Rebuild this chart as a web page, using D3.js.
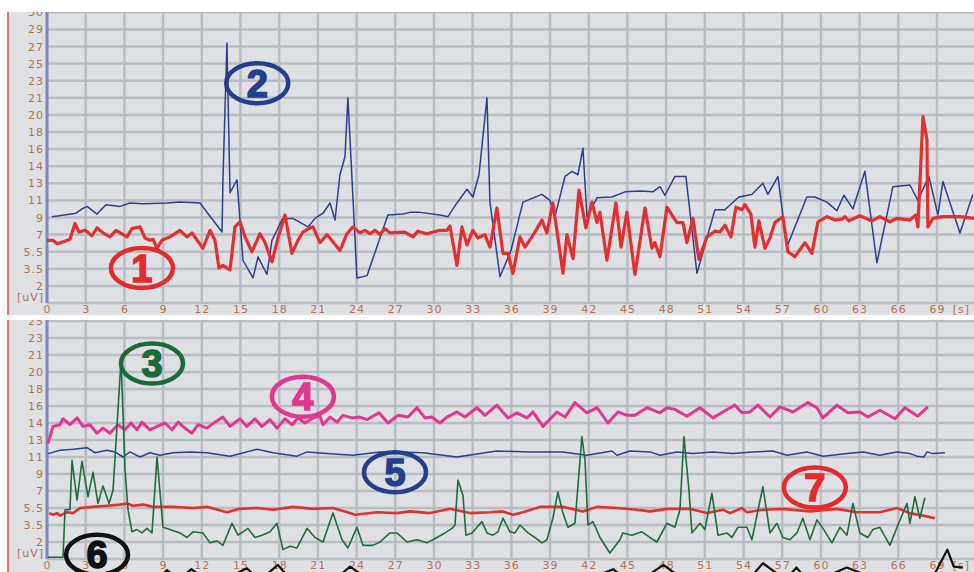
<!DOCTYPE html>
<html>
<head>
<meta charset="utf-8">
<script src="https://cdn.jsdelivr.net/npm/d3@7"></script>
<style>
  body { margin: 0; background: #fff; }
  svg { display: block; }
  .tick text { font-family: "DejaVu Sans", sans-serif; font-size: 11px; fill: #b5724f; letter-spacing: 1px; }
  .unit { font-family: "DejaVu Sans", sans-serif; font-size: 11px; fill: #b5724f; letter-spacing: 1px; }
  .badge text { font-family: "Liberation Sans", Arial, sans-serif; font-weight: bold; font-size: 38px; }
</style>
</head>
<body>
<svg id="chart" width="974" height="572"></svg>
<script>
// Time ticks in seconds, shared by both panels
const timeTicks = [0, 3, 6, 9, 12, 15, 18, 21, 24, 27, 30, 33, 36, 39, 42, 45, 48, 51, 54, 57, 60, 63, 66, 69];

// The amplitude axes are not linear: every label sits one grid row apart
const topLevels = [0, 2, 3.5, 5.5, 7, 9, 11, 13, 14, 16, 18, 20, 21, 23, 25, 27, 29, 30];
const bottomLevels = [0, 2, 3.5, 5.5, 7, 9, 11, 13, 14, 16, 18, 20, 21, 23, 25];

// [time s, amplitude uV]
const ch1Red = [[0.0,6.5],[0.47,6.5],[0.78,6.2],[1.32,6.4],[1.78,6.6],[2.17,8.3],[2.48,7.3],[2.95,7.5],[3.49,6.9],[3.88,7.8],[4.34,7.2],[4.88,6.8],[5.35,7.5],[6.2,6.8],[6.59,7.7],[7.21,7.9],[7.6,6.7],[7.98,6.5],[8.22,6.6],[8.53,5.8],[8.91,6.5],[9.53,6.8],[10.31,7.5],[10.85,6.8],[11.24,7.2],[12.09,5.8],[12.64,7.5],[13.02,6.5],[13.33,3.6],[13.64,3.9],[14.19,3.4],[14.57,7.9],[14.96,8.5],[15.35,6.8],[15.89,5.5],[16.51,7.1],[16.9,6.3],[17.44,4.3],[17.91,6.7],[18.45,9.3],[18.99,5.3],[19.46,6.5],[19.84,7.3],[20.39,7.8],[20.62,7.9],[21.16,6.3],[21.71,7.0],[22.71,5.6],[23.26,7.1],[23.72,7.9],[24.26,7.2],[24.65,7.5],[25.04,7.1],[25.43,7.5],[25.81,7.0],[26.2,7.7],[26.59,7.2],[27.75,7.3],[28.37,6.8],[28.76,7.4],[29.46,7.1],[30.47,7.5],[31.01,7.5],[31.24,8.0],[31.78,3.9],[32.17,7.9],[32.56,6.1],[33.02,7.5],[33.41,6.7],[33.95,7.0],[34.34,5.9],[34.88,10.1],[35.35,5.3],[35.74,5.3],[36.12,3.1],[36.67,6.8],[37.05,5.9],[37.6,6.8],[38.37,8.7],[38.76,7.2],[39.22,10.7],[39.53,7.5],[40.0,3.1],[40.31,7.0],[40.78,4.7],[41.24,12.2],[41.78,7.8],[42.25,10.8],[42.64,8.4],[42.87,9.6],[43.41,4.5],[44.11,10.7],[44.5,5.9],[44.96,9.6],[45.58,3.0],[46.36,10.1],[46.9,5.8],[47.13,6.3],[47.52,4.9],[48.06,10.2],[48.84,8.4],[49.3,8.4],[49.61,6.3],[50.08,8.9],[50.54,4.6],[51.16,6.8],[51.78,7.4],[52.17,7.3],[52.56,8.1],[53.02,6.8],[53.41,10.2],[53.88,9.9],[54.11,10.5],[54.57,9.4],[54.88,5.9],[55.19,8.6],[55.66,5.8],[56.05,6.7],[56.43,8.4],[57.05,9.1],[57.44,5.5],[57.98,4.9],[58.76,6.3],[59.3,5.3],[59.77,8.5],[60.47,9.1],[61.09,8.7],[61.63,8.8],[61.86,9.1],[62.17,8.6],[63.02,9.2],[63.95,8.6],[64.57,9.1],[65.35,8.5],[65.89,8.9],[66.9,8.7],[67.36,9.3],[67.52,7.9],[67.91,19.8],[68.22,17.1],[68.29,7.9],[68.68,8.9],[69.46,9.1],[70.78,9.1],[71.86,8.9]];

const ch2Blue = [[0.39,9.1],[2.25,9.5],[2.71,10.0],[3.1,10.3],[3.88,9.4],[4.57,10.5],[5.66,10.3],[6.43,10.7],[7.44,10.6],[9.3,10.7],[10.31,10.8],[11.86,10.7],[13.57,7.3],[13.64,13.2],[13.95,27.4],[14.19,11.9],[14.73,13.2],[15.19,4.5],[15.97,2.7],[16.36,4.9],[17.05,3.0],[17.44,6.5],[17.83,7.5],[18.22,8.8],[19.07,8.9],[20.23,7.9],[20.78,8.9],[21.4,9.5],[21.94,10.7],[22.33,8.7],[22.71,13.5],[23.1,15.1],[23.33,21.0],[24.03,2.7],[24.81,2.9],[26.43,9.3],[27.6,9.4],[28.14,9.6],[28.91,9.6],[30.47,9.3],[31.09,9.1],[31.78,10.7],[32.56,12.3],[33.02,11.4],[33.49,13.5],[34.11,21.0],[34.34,10.8],[35.12,2.8],[35.97,5.6],[36.9,10.8],[38.37,11.7],[38.99,11.0],[39.38,9.1],[40.16,13.4],[40.7,13.7],[41.16,13.5],[41.55,16.1],[41.86,9.1],[42.64,11.3],[43.8,11.4],[44.81,12.0],[45.97,12.1],[46.98,12.0],[47.52,12.6],[47.91,11.6],[48.68,13.4],[49.53,13.4],[50.39,3.1],[51.78,9.9],[52.56,9.9],[53.64,11.4],[54.65,11.7],[55.5,13.0],[55.89,11.7],[56.67,13.4],[57.36,5.9],[58.91,11.4],[59.53,11.4],[60.47,10.8],[61.24,9.8],[61.78,11.6],[62.48,10.0],[63.41,13.7],[64.34,4.2],[65.58,12.6],[66.9,12.8],[67.52,11.0],[68.37,13.4],[69.07,9.3],[69.46,13.1],[70.78,7.2],[71.78,11.7]];

const ch3Green = [[0.08,0.2],[1.24,0.2],[1.4,5.3],[1.78,5.3],[1.94,10.6],[2.33,6.2],[2.71,10.5],[3.18,6.5],[3.57,9.2],[3.95,5.9],[4.34,7.6],[4.81,5.9],[5.12,7.1],[5.74,20.7],[6.05,9.5],[6.28,5.3],[6.59,2.9],[6.98,3.1],[7.36,2.8],[7.75,3.2],[8.14,2.8],[8.53,11.0],[8.99,3.3],[9.53,3.1],[10.31,2.8],[10.85,2.4],[11.32,2.9],[12.09,2.8],[12.64,1.9],[13.18,2.1],[13.64,1.6],[14.34,3.7],[14.81,2.6],[15.58,3.2],[16.12,2.4],[16.67,2.6],[17.29,2.9],[17.83,3.7],[18.29,1.1],[18.84,1.5],[19.38,1.3],[20.16,3.2],[20.78,2.4],[21.4,2.0],[22.17,4.9],[22.87,2.2],[23.33,1.3],[24.03,3.3],[24.5,1.6],[25.27,1.6],[25.81,2.0],[26.59,2.8],[27.13,2.8],[27.91,2.0],[28.68,2.2],[29.46,1.9],[30.23,2.4],[30.85,2.8],[31.4,3.2],[31.63,3.5],[31.86,8.3],[32.25,6.6],[32.48,2.6],[32.95,2.8],[33.72,3.9],[34.11,2.8],[34.57,2.6],[34.96,2.9],[35.35,4.3],[35.89,2.9],[36.28,2.8],[36.67,3.5],[37.29,2.8],[37.83,2.4],[38.37,1.9],[38.76,2.2],[39.22,4.3],[39.61,6.9],[40.0,4.9],[40.39,3.3],[40.93,3.7],[41.47,13.2],[41.71,10.6],[41.94,3.5],[42.33,3.9],[42.87,2.4],[43.64,0.7],[44.42,2.2],[44.65,2.8],[45.35,2.6],[46.12,2.9],[46.74,2.4],[47.29,2.0],[48.06,3.7],[48.68,3.3],[49.07,5.3],[49.38,13.2],[49.77,7.1],[50.0,2.8],[50.62,3.7],[51.01,3.1],[51.55,6.8],[52.02,2.6],[52.71,2.8],[53.1,2.4],[53.57,3.3],[54.26,3.3],[54.65,2.2],[55.5,7.5],[56.05,2.8],[56.59,3.7],[57.05,2.4],[57.6,2.2],[58.14,2.8],[58.6,4.3],[59.15,2.2],[59.69,4.1],[60.16,3.2],[60.85,1.9],[61.47,3.3],[62.02,2.6],[62.48,5.9],[63.02,2.8],[63.64,2.4],[64.03,3.1],[64.57,3.3],[65.35,1.6],[65.97,3.5],[66.67,5.9],[66.9,3.7],[67.29,6.5],[67.67,4.3],[68.06,6.4]];

const ch4Magenta = [[0.08,12.6],[0.47,13.8],[1.01,13.9],[1.24,14.5],[1.78,13.9],[2.33,14.6],[2.79,13.8],[3.33,13.9],[3.88,13.4],[4.34,13.7],[4.88,13.4],[5.5,13.9],[6.05,13.6],[6.51,14.0],[6.98,13.6],[7.36,14.1],[7.98,13.6],[8.53,13.8],[9.15,14.0],[9.69,13.6],[10.16,14.1],[10.85,13.6],[11.24,13.4],[11.71,13.9],[12.4,13.7],[13.02,14.1],[13.64,14.7],[14.19,13.8],[14.96,14.5],[15.5,13.8],[16.12,14.5],[16.67,13.8],[17.29,14.4],[17.83,13.7],[18.45,14.5],[18.99,13.9],[19.46,14.6],[20.0,14.0],[20.62,14.6],[21.16,14.8],[21.4,13.9],[21.94,14.7],[22.48,14.1],[22.95,14.9],[23.64,14.6],[24.26,14.7],[24.81,14.4],[25.74,15.2],[26.43,14.0],[27.21,14.9],[27.98,14.7],[28.68,15.8],[29.3,14.6],[29.84,14.7],[30.47,14.0],[31.01,14.7],[31.78,15.3],[32.4,14.7],[33.33,15.8],[33.95,14.9],[34.88,16.1],[35.74,14.6],[36.43,15.2],[37.21,14.6],[37.67,15.3],[38.45,13.8],[39.53,15.3],[40.16,14.7],[40.93,16.4],[41.86,15.2],[42.64,15.8],[43.49,14.0],[44.26,15.3],[44.96,14.9],[45.58,14.9],[46.51,15.8],[47.52,15.2],[48.06,15.8],[48.68,15.6],[49.61,14.8],[50.62,15.8],[51.63,14.6],[52.4,15.3],[53.33,16.1],[53.88,15.2],[54.5,15.3],[55.12,16.1],[56.05,14.7],[56.82,15.9],[57.83,15.3],[58.99,16.4],[59.69,15.8],[60.16,14.6],[61.24,16.1],[62.09,15.2],[63.02,15.3],[63.64,14.7],[64.57,15.5],[65.74,14.5],[66.51,15.8],[67.52,14.8],[68.29,15.9]];

const ch5Blue = [[0.08,11.4],[1.01,11.8],[2.02,11.9],[3.1,12.1],[3.72,11.5],[4.65,11.8],[5.27,11.6],[5.89,11.0],[6.43,11.6],[7.21,11.0],[7.98,11.5],[8.76,11.2],[9.77,11.5],[11.09,11.6],[12.4,11.5],[14.19,11.1],[16.28,11.9],[17.52,11.5],[19.38,11.1],[20.16,11.6],[21.71,11.4],[23.72,11.2],[25.81,11.6],[27.13,11.6],[29.15,11.5],[31.78,11.0],[34.88,11.7],[37.44,11.6],[40.0,11.6],[41.86,11.2],[43.8,11.7],[44.19,11.2],[45.19,11.7],[46.74,11.6],[47.52,11.2],[48.84,11.6],[50.08,11.4],[51.63,11.6],[53.18,11.4],[54.73,11.6],[56.28,11.7],[57.36,11.2],[58.91,11.6],[60.16,11.1],[62.02,11.4],[63.26,11.6],[64.57,11.2],[65.89,11.6],[66.9,11.4],[67.44,11.1],[67.98,11.0],[68.22,11.6],[68.68,11.4],[69.61,11.5]];

// Channel 6 runs mostly below the visible area, only its peaks show
const ch6Black = [[0.0,-2.6],[1.5,-1.9],[3.0,-2.8],[4.5,-2.0],[6.0,-2.6],[7.5,-2.2],[8.5,-2.6],[9.3,-1.3],[10.2,-2.4],[11.2,-1.2],[12.5,-2.7],[14.0,-2.2],[15.5,-1.1],[16.5,-2.5],[17.9,-0.7],[19.0,-2.6],[20.5,-2.0],[22.0,-2.8],[23.5,-0.9],[25.0,-2.5],[26.5,-2.0],[28.0,-2.7],[29.5,-1.9],[31.0,-2.6],[32.5,-1.8],[34.0,-2.8],[35.5,-2.0],[37.0,-2.5],[38.5,-2.1],[40.0,-2.7],[41.5,-1.9],[42.9,-1.8],[43.9,-1.2],[45.0,-2.6],[46.5,-2.0],[47.8,-0.7],[48.5,-1.5],[50.0,-2.7],[51.5,-2.0],[53.2,-1.8],[54.3,-2.6],[55.5,-0.5],[56.5,-1.6],[57.3,-2.4],[58.1,-1.0],[59.0,-2.6],[60.5,-2.0],[62.0,-1.0],[63.0,-1.6],[64.5,-2.7],[66.0,-2.0],[67.5,-2.8],[68.8,-1.8],[69.8,1.1],[70.3,-0.9],[71.0,-1.0]];

const ch7Red = [[0.16,4.9],[0.47,4.7],[0.78,4.9],[1.01,4.6],[1.55,5.0],[2.02,4.9],[2.56,5.5],[3.57,5.6],[4.65,5.7],[5.66,5.8],[6.2,5.9],[6.67,5.7],[7.44,5.8],[8.22,5.6],[9.77,5.6],[11.32,5.5],[12.4,5.6],[13.95,5.0],[14.96,5.4],[16.28,5.5],[17.52,5.3],[19.07,5.6],[20.62,5.4],[22.17,5.5],[23.49,4.9],[23.88,4.7],[25.58,5.0],[27.13,4.9],[28.14,5.1],[29.69,4.9],[31.24,5.4],[32.79,4.9],[34.34,5.0],[35.35,5.1],[36.12,4.7],[36.9,5.0],[38.22,5.6],[40.0,5.6],[41.55,5.1],[42.64,5.6],[44.19,5.5],[45.74,5.3],[46.74,5.1],[48.06,5.4],[49.84,5.4],[51.16,4.9],[52.4,5.3],[52.95,4.9],[53.88,5.5],[54.26,5.0],[55.5,5.3],[57.05,5.4],[59.15,5.1],[61.24,5.4],[62.79,5.0],[64.57,5.0],[65.89,5.5],[66.9,4.9],[67.91,4.6],[68.84,4.3]];

// Circled channel numbers: [label, time s, amplitude uV]
const badgesTop = [['1', 7.36, 3.6], ['2', 16.3, 22.7]];
const badgesBottom = [['3', 8.14, 20.5], ['4', 19.84, 17.1], ['5', 26.98, 9.2], ['6', 3.88, 0.5], ['7', 59.53, 7.4]];

const svg = d3.select('#chart');
const width = 974;
const plotLeft = 47;
const gridColor = '#b8bcc3';
const panelColor = '#dfe0e4';

const x = d3.scaleLinear().domain([0, 69]).range([plotLeft, 937]);

const line = y => d3.line().x(d => x(d[0])).y(d => y(d[1]));

const panels = [
  {
    id: 'top', top: 12, bottom: 315, axisY: 303, step: 17.1, levels: topLevels,
    series: [
      {data: ch2Blue, color: '#2c3f8e', width: 1.5},
      {data: ch1Red, color: '#e2302f', width: 3.2}
    ],
    badges: badgesTop
  },
  {
    id: 'bottom', top: 320, bottom: 572, axisY: 559, step: 17, levels: bottomLevels,
    series: [
      {data: ch7Red, color: '#e2302f', width: 2.6},
      {data: ch5Blue, color: '#2c3f8e', width: 1.5},
      {data: ch4Magenta, color: '#e0378f', width: 3},
      {data: ch3Green, color: '#1d6d3b', width: 1.6},
      {data: ch6Black, color: '#111111', width: 2.2}
    ],
    badges: badgesBottom
  }
];

const badgeColor = {'1': '#e22b2b', '2': '#223f8c', '3': '#1b6b39', '4': '#e0378f', '5': '#223f8c', '6': '#111111', '7': '#e22b2b'};

panels.forEach(p => {
  const y = d3.scaleLinear()
    .domain(p.levels)
    .range(p.levels.map((d, i) => p.axisY - i * p.step));

  svg.append('clipPath').attr('id', 'clip-' + p.id)
    .append('rect')
      .attr('x', 0).attr('y', p.top)
      .attr('width', width).attr('height', p.bottom - p.top);

  const g = svg.append('g').attr('clip-path', `url(#clip-${p.id})`);

  g.append('rect')
    .attr('x', 8).attr('y', p.top)
    .attr('width', width - 8).attr('height', p.bottom - p.top)
    .attr('fill', panelColor);

  // grid
  g.append('g').selectAll('line')
    .data(p.levels)
    .join('line')
      .attr('x1', plotLeft).attr('x2', width)
      .attr('y1', d => y(d)).attr('y2', d => y(d))
      .attr('stroke', gridColor).attr('stroke-width', 2.5);

  g.append('g').selectAll('line')
    .data(timeTicks.slice(1))
    .join('line')
      .attr('x1', d => x(d)).attr('x2', d => x(d))
      .attr('y1', p.top).attr('y2', p.axisY)
      .attr('stroke', gridColor).attr('stroke-width', 2.5);

  // amplitude labels, "[uV]" sits on the zero row
  const yAxis = g.append('g')
    .attr('transform', `translate(${plotLeft - 3},0)`)
    .call(d3.axisLeft(y).tickValues(p.levels).tickSize(0).tickPadding(0)
      .tickFormat(d => d === 0 ? '[uV]' : d));
  yAxis.select('.domain').remove();
  yAxis.selectAll('.tick').filter(d => d === 0).select('text').attr('y', -6);

  const xAxis = g.append('g')
    .attr('transform', `translate(0,${p.axisY})`)
    .call(d3.axisBottom(x).tickValues(timeTicks).tickSize(0).tickPadding(2));
  xAxis.select('.domain').remove();

  g.append('text')
    .attr('class', 'unit')
    .attr('x', x(70.9)).attr('y', p.axisY + 2)
    .attr('dy', '0.71em')
    .attr('text-anchor', 'middle')
    .text('[s]');

  // left border and value axis
  g.append('line')
    .attr('x1', 8).attr('x2', 8).attr('y1', p.top).attr('y2', p.bottom)
    .attr('stroke', '#e04848').attr('stroke-width', 1.5);
  g.append('line')
    .attr('x1', plotLeft).attr('x2', plotLeft).attr('y1', p.top).attr('y2', p.axisY)
    .attr('stroke', '#7f86c3').attr('stroke-width', 3);

  g.append('g').selectAll('path')
    .data(p.series)
    .join('path')
      .attr('d', s => line(y)(s.data))
      .attr('fill', 'none')
      .attr('stroke', s => s.color)
      .attr('stroke-width', s => s.width)
      .attr('stroke-linejoin', 'round');

  const badge = g.append('g').selectAll('g')
    .data(p.badges)
    .join('g')
      .attr('class', 'badge')
      .attr('transform', d => `translate(${x(d[1])},${y(d[2])})`);

  badge.append('ellipse')
    .attr('rx', 31).attr('ry', 20)
    .attr('fill', 'none')
    .attr('stroke', d => badgeColor[d[0]])
    .attr('stroke-width', 4.5);

  badge.append('text')
    .attr('text-anchor', 'middle')
    .attr('dy', '0.36em')
    .attr('fill', d => badgeColor[d[0]])
    .attr('stroke', d => badgeColor[d[0]])
    .attr('stroke-width', 1.5)
    .text(d => d[0]);
});
</script>
</body>
</html>
